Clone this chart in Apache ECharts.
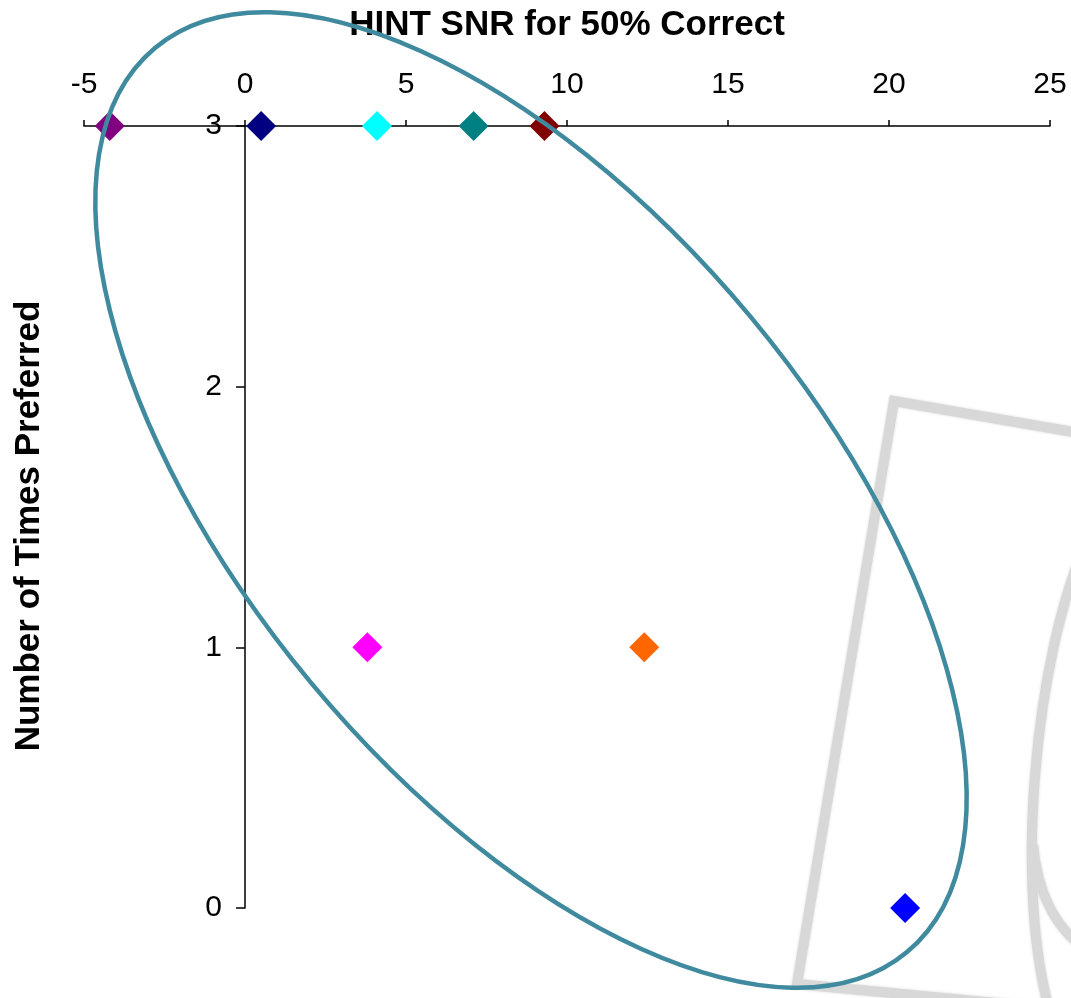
<!DOCTYPE html>
<html>
<head>
<meta charset="utf-8">
<script src="https://cdn.jsdelivr.net/npm/echarts@6/dist/echarts.min.js"></script>
<style>
  html, body { margin: 0; padding: 0; background: #fff; }
  #main { width: 1071px; height: 998px; }
</style>
</head>
<body>
<div id="main"></div>
<script>
// HINT SNR (dB) for 50% correct, per condition
var snr = [-4.2, 0.5, 4.1, 7.1, 9.3, 3.8, 12.4, 20.5];
// number of times preferred
var timesPreferred = [3, 3, 3, 3, 3, 1, 1, 0];
var pointColors = ['#800080', '#000080', '#00ffff', '#008080', '#800000', '#ff00ff', '#ff6600', '#0000ff'];

var xTicks = [-5, 0, 5, 10, 15, 20, 25];
var yTicks = [0, 1, 2, 3];

var points = [];
for (var i = 0; i < snr.length; i++) {
    points.push({
        value: [snr[i], timesPreferred[i]],
        itemStyle: { color: pointColors[i] }
    });
}

var font = '"Liberation Sans", Arial, sans-serif';
var myChart = echarts.init(document.getElementById('main'));

// y labels sit by the y axis line (at x = 0), not at the grid edge
var gridLeft = 84;
var yLineOffset = 161; // px from grid left to x = 0

var wmStyle = { stroke: '#d8d8d8', lineWidth: 10, fill: null, shadowBlur: 3, shadowColor: '#d8d8d8' };

var option = {
    animation: false,
    backgroundColor: '#fff',
    grid: { left: gridLeft, right: 21, top: 126, bottom: 90, containLabel: false, outerBoundsMode: 'none' },
    xAxis: {
        type: 'value',
        position: 'top',
        min: xTicks[0],
        max: xTicks[xTicks.length - 1],
        interval: 5,
        name: 'HINT SNR for 50% Correct',
        nameLocation: 'middle',
        nameGap: 83,
        nameTextStyle: { fontFamily: font, fontSize: 35, fontWeight: 'bold', color: '#000' },
        axisLine: { onZero: false, lineStyle: { color: '#000', width: 1.5 } },
        axisTick: { inside: false, length: 6, lineStyle: { color: '#000', width: 1.5 } },
        axisLabel: { fontFamily: font, fontSize: 30, color: '#000', margin: 26 },
        splitLine: { show: false }
    },
    yAxis: {
        type: 'value',
        min: yTicks[0],
        max: yTicks[yTicks.length - 1],
        interval: 1,
        name: 'Number of Times Preferred',
        nameLocation: 'middle',
        nameGap: 37,
        nameTextStyle: { fontFamily: font, fontSize: 35, fontWeight: 'bold', color: '#000', padding: [0, 18, 0, 0] },
        axisLine: { onZero: true, lineStyle: { color: '#000', width: 1.5 } },
        axisTick: { inside: false, length: 9, lineStyle: { color: '#000', width: 1.5 } },
        axisLabel: { fontFamily: font, fontSize: 30, color: '#000', margin: 23 - yLineOffset },
        splitLine: { show: false }
    },
    series: [
        {
            type: 'scatter',
            symbol: 'diamond',
            symbolSize: 30,
            itemStyle: { opacity: 1 },
            data: points,
            z: 3
        }
    ],
    graphic: [
        // faint background watermark
        {
            type: 'polyline',
            z: -10,
            shape: { points: [[1085, 434], [894, 401], [797, 984], [1090, 1012]] },
            style: Object.assign({ lineJoin: 'miter' }, wmStyle),
            silent: true
        },
        {
            type: 'bezierCurve',
            z: -10,
            shape: { x1: 1085, y1: 545, cpx1: 1035, cpy1: 660, cpx2: 1015, cpy2: 880, x2: 1048, y2: 1005 },
            style: Object.assign({}, wmStyle),
            silent: true
        },
        {
            type: 'bezierCurve',
            z: -10,
            shape: { x1: 1033, y1: 845, cpx1: 1038, cpy1: 895, cpx2: 1055, cpy2: 925, x2: 1080, y2: 945 },
            style: Object.assign({}, wmStyle),
            silent: true
        },
        // ellipse annotation
        {
            type: 'ellipse',
            z: 100,
            x: 531,
            y: 500,
            rotation: -0.877,
            shape: { cx: 0, cy: 0, rx: 588, ry: 286 },
            style: { stroke: '#3f8a9e', lineWidth: 4.5, fill: null },
            silent: true
        }
    ]
};

myChart.setOption(option);
</script>
</body>
</html>
